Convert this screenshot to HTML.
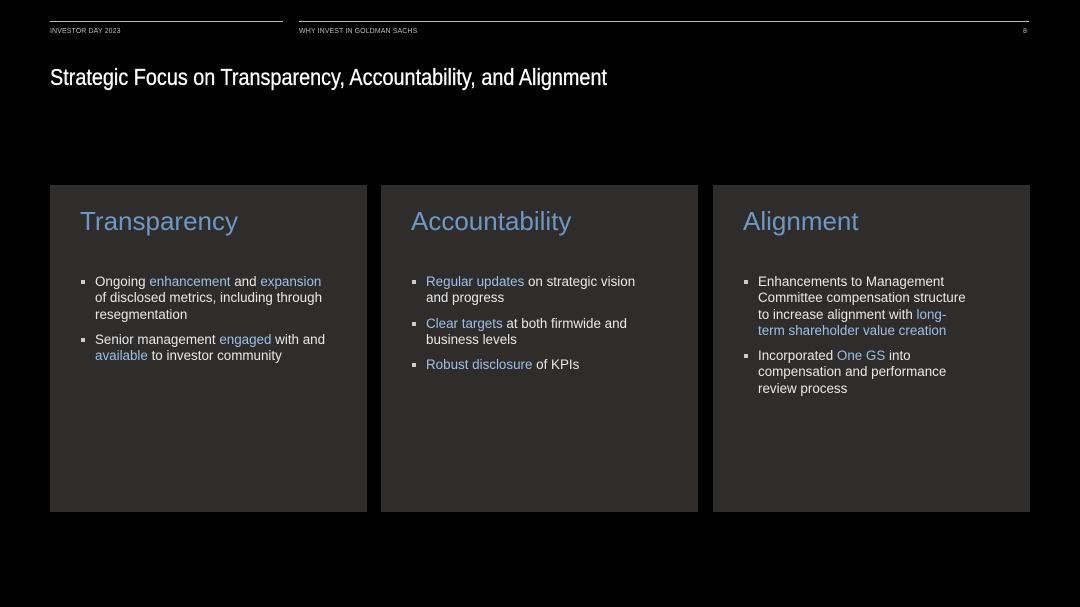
<!DOCTYPE html>
<html><head><meta charset="utf-8"><style>
html,body{margin:0;padding:0;background:#000;}
body{width:1080px;height:607px;position:relative;overflow:hidden;font-family:"Liberation Sans",sans-serif;color:#e6e6e6;}
.hl{position:absolute;top:21px;height:1px;background:#bbb;}
.sm{position:absolute;top:28px;font-size:7px;color:#bbb;letter-spacing:0.1px;}
.title{position:absolute;left:50px;top:64px;font-family:"Liberation Sans Narrow","Liberation Sans",sans-serif;font-size:23px;color:#fff;white-space:nowrap;transform-origin:left top;-webkit-text-stroke:0.3px #fff;}
.panel{position:absolute;top:185px;width:317px;height:327px;background:#2e2d2c;}
.panel h2{position:absolute;left:30px;top:21px;margin:0;font-weight:normal;font-size:26px;color:#6f97c4;}
.panel ul{position:absolute;left:30px;top:89px;margin:0;padding:0;list-style:none;width:270px;}
.panel li{position:relative;padding-left:15px;font-size:13.4px;line-height:16.3px;margin-bottom:9px;color:#e8e8e8;}
.panel li:before{content:"";position:absolute;left:1px;top:6px;width:4px;height:4px;background:#ccc;}
.b{color:#9fbfe4;}
</style></head><body>
<div class="hl" style="left:50px;width:233px"></div>
<div class="hl" style="left:299px;width:730px"></div>
<div class="sm" style="left:50px">INVESTOR DAY 2023</div>
<div class="sm" style="left:299px">WHY INVEST IN GOLDMAN SACHS</div>
<div class="sm" style="left:1023px">8</div>
<div class="title" id="t">Strategic Focus on Transparency, Accountability, and Alignment</div>
<div class="panel" style="left:50px"><h2>Transparency</h2><ul>
<li>Ongoing <span class="b">enhancement</span> and <span class="b">expansion</span><br>of disclosed metrics, including through<br>resegmentation</li>
<li>Senior management <span class="b">engaged</span> with and<br><span class="b">available</span> to investor community</li></ul></div>
<div class="panel" style="left:381px"><h2>Accountability</h2><ul>
<li><span class="b">Regular updates</span> on strategic vision<br>and progress</li>
<li><span class="b">Clear targets</span> at both firmwide and<br>business levels</li>
<li><span class="b">Robust disclosure</span> of KPIs</li></ul></div>
<div class="panel" style="left:713px"><h2>Alignment</h2><ul>
<li>Enhancements to Management<br>Committee compensation structure<br>to increase alignment with <span class="b">long-</span><br><span class="b">term shareholder value creation</span></li>
<li>Incorporated <span class="b">One GS</span> into<br>compensation and performance<br>review process</li></ul></div>
<script>
var t=document.getElementById('t');var w=t.getBoundingClientRect().width;t.style.transform='scaleX('+(557/w)+')';
</script>
</body></html>
